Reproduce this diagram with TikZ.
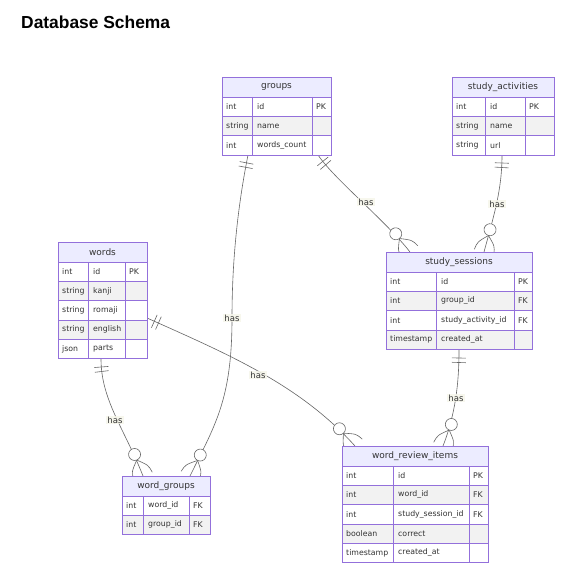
\documentclass[tikz,border=0pt]{standalone}
\usepackage{fontspec}
\usetikzlibrary{decorations.markings}
\newfontfamily\titlefont{Liberation Sans}
\newfontfamily\erfont{DejaVu Sans}
\definecolor{bordc}{HTML}{9370DB}
\definecolor{hdrfill}{HTML}{ECECFF}
\definecolor{rowgray}{HTML}{F2F2F2}
\definecolor{txtc}{HTML}{333333}
\definecolor{linec}{HTML}{666666}
\definecolor{lblfill}{HTML}{F6F6EA}
\tikzset{
  tbl/.style={draw=bordc, line width=0.7pt},
  hdrtxt/.style={font=\erfont\fontsize{9}{10}\selectfont, text=txtc, inner sep=0pt},
  celltxt/.style={font=\erfont\fontsize{7.8}{9}\selectfont, text=txtc, inner sep=0pt, anchor=west},
  lbl/.style={font=\erfont\fontsize{8.5}{10}\selectfont, text=txtc, fill=lblfill, fill opacity=0.85, text opacity=1, inner sep=1pt},
  rel/.style={draw=linec, line width=0.6pt, postaction={decorate},
    decoration={markings,
      mark=at position 8pt with {\draw[linec, line width=0.6pt] (0,-7pt) -- (0,7pt);},
      mark=at position 12.5pt with {\draw[linec, line width=0.6pt] (0,-7pt) -- (0,7pt);},
      mark=at position 0.999 with {
        \draw[linec, line width=0.6pt] (-17pt,0) .. controls (-8pt,9pt) .. (0,10pt);
        \draw[linec, line width=0.6pt] (-17pt,0) .. controls (-8pt,-9pt) .. (0,-10pt);
        \draw[linec, line width=0.6pt, fill=white] (-23pt,0) circle (6pt);
      }}},
  titlestyle/.style={font=\titlefont\bfseries\fontsize{17.4}{20}\selectfont, inner sep=0pt, anchor=west}
}
% #1 id, #2 left, #3 top, #4 sep1, #5 sep2, #6 right, #7 title, #8 rows
\newcommand\ertable[8]{%
  \draw[tbl, fill=hdrfill] (#2,#3) rectangle (#6,#3+20);
  \node[hdrtxt] (#1) at ({(#2+#6)/2},#3+10) {#7};
  \foreach \ty/\nm/\ky [count=\i] in {#8} {
    \pgfmathsetmacro\ya{#3+20+(\i-1)*19.3}
    \pgfmathsetmacro\yb{\ya+19.3}
    \pgfmathsetmacro\ym{\ya+9.65}
    \ifodd\i\def\rf{white}\else\def\rf{rowgray}\fi
    \draw[tbl, fill=\rf] (#2,\ya) rectangle (#6,\yb);
    \draw[tbl] (#4,\ya) -- (#4,\yb) (#5,\ya) -- (#5,\yb);
    \node[celltxt] (#1-t\i) at (#2+4,\ym) {\ty};
    \node[celltxt] (#1-n\i) at (#4+5,\ym) {\nm};
    \node[celltxt] (#1-k\i) at (#5+4,\ym) {\ky};
  }
}
\begin{document}
\begin{tikzpicture}[x=1pt, y=-1pt]
\fill[white] (0,0) rectangle (568,569);
\useasboundingbox (0,0) rectangle (568,569);
\node[titlestyle] (title) at (21,22) {Database Schema};

% connectors first (tables drawn over them)
\coordinate (g1) at (248,155);
\coordinate (wg1) at (190,476);
\coordinate (g2) at (318,155);
\coordinate (ss1) at (410,252);
\coordinate (sa1) at (502,155);
\coordinate (ss2) at (484,252);
\coordinate (w1) at (101,359);
\coordinate (wg2) at (143,476);
\coordinate (w2) at (147,318);
\coordinate (wr1) at (355,446);
\coordinate (ss3) at (459,350);
\coordinate (wr2) at (443,446);

\draw[rel] (g1) .. controls (236,215) and (232,270) .. (232,318) .. controls (232,400) and (215,425) .. (wg1);
\draw[rel] (g2) .. controls (335,180) and (385,220) .. (ss1);
\draw[rel] (sa1) .. controls (502,190) and (494,215) .. (ss2);
\draw[rel] (w1) .. controls (101,400) and (125,430) .. (wg2);
\draw[rel] (w2) .. controls (230,355) and (300,385) .. (wr1);
\draw[rel] (ss3) .. controls (459,385) and (455,415) .. (wr2);

\node[lbl] (l1) at (232,318) {has};
\node[lbl] (l2) at (366,202) {has};
\node[lbl] (l3) at (497,204) {has};
\node[lbl] (l4) at (115,420) {has};
\node[lbl] (l5) at (258,375) {has};
\node[lbl] (l6) at (456,398) {has};

\ertable{groups}{222}{77}{252}{312}{331}{groups}{int/id/PK, string/name/, int/words\_count/}
\ertable{sa}{452}{77}{485}{525}{554}{study\_activities}{int/id/PK, string/name/, string/url/}
\ertable{words}{58}{242}{88}{125}{147}{words}{int/id/PK, string/kanji/, string/romaji/, string/english/, json/parts/}
\ertable{ss}{386}{252}{436}{514}{532}{study\_sessions}{int/id/PK, int/group\_id/FK, int/study\_activity\_id/FK, timestamp/created\_at/}
\ertable{wg}{122}{476}{143}{189}{210}{word\_groups}{int/word\_id/FK, int/group\_id/FK}
\ertable{wr}{342}{446}{393}{469}{488}{word\_review\_items}{int/id/PK, int/word\_id/FK, int/study\_session\_id/FK, boolean/correct/, timestamp/created\_at/}
\end{tikzpicture}
\end{document}
